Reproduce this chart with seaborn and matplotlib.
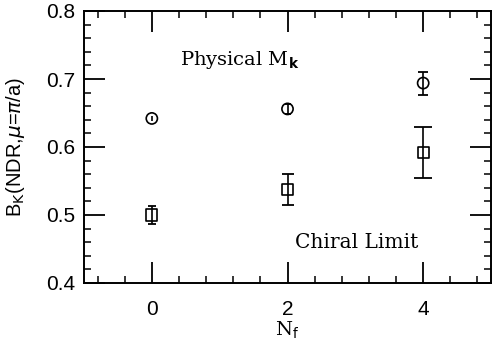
import matplotlib
matplotlib.use("Agg")
import matplotlib.pyplot as plt
from matplotlib.ticker import MultipleLocator
import seaborn as sns
import pandas as pd

# Data
nf = [0, 2, 4]
phys_vals = [0.642, 0.656, 0.694]
phys_errs = [0.004, 0.007, 0.017]
chiral_vals = [0.500, 0.538, 0.592]
chiral_errs = [0.013, 0.023, 0.038]
phys_caps = [0.0, 2.5, 3.6]
chiral_caps = [3.0, 4.3, 6.8]
xticks = [0, 2, 4]
yticks = [0.4, 0.5, 0.6, 0.7, 0.8]

sns.set_style("ticks")
plt.rcParams['font.family'] = ['Liberation Sans', 'DejaVu Sans']
plt.rcParams['text.color'] = 'black'
plt.rcParams['axes.labelcolor'] = 'black'
plt.rcParams['xtick.color'] = 'black'
plt.rcParams['ytick.color'] = 'black'

df = pd.DataFrame({
    "nf": nf * 2,
    "val": phys_vals + chiral_vals,
    "set": ["Physical"] * 3 + ["Chiral"] * 3,
})

fig = plt.figure(figsize=(4.92, 3.49), dpi=100)
ax = fig.add_axes([84 / 492, 1 - 283 / 349, (491 - 84) / 492, (283 - 11) / 349])

sns.scatterplot(data=df, x="nf", y="val", style="set",
                markers={"Physical": "o", "Chiral": "s"},
                s=65, facecolor='white', edgecolor='black', linewidth=1.2,
                legend=False, ax=ax, zorder=3)

for x, v, e, c in zip(nf, phys_vals, phys_errs, phys_caps):
    ax.errorbar(x, v, yerr=e, fmt='none', ecolor='black', elinewidth=1.2,
                capsize=c, capthick=1.3, zorder=4)
for x, v, e, c in zip(nf, chiral_vals, chiral_errs, chiral_caps):
    ax.errorbar(x, v, yerr=e, fmt='none', ecolor='black', elinewidth=1.2,
                capsize=c, capthick=1.3, zorder=4)

ax.set_xlim(-1, 5)
ax.set_ylim(0.4, 0.8)
ax.set_xticks(xticks)
ax.set_yticks(yticks)
ax.set_yticklabels([f"{t:.1f}" for t in yticks])
ax.xaxis.set_minor_locator(MultipleLocator(0.4))
ax.yaxis.set_minor_locator(MultipleLocator(0.02))
ax.tick_params(which='both', direction='in', top=True, right=True, color='black',
               labelcolor='black')
ax.tick_params(which='major', length=15, width=1.3, labelsize=15)
ax.tick_params(which='minor', length=5, width=1.1)
ax.tick_params(axis='x', which='major', pad=12)
ax.tick_params(axis='y', which='major', pad=6)
for s in ax.spines.values():
    s.set_linewidth(1.4)
    s.set_color('black')

ax.set_xlabel(r"N$_{\mathrm{f}}$", fontsize=14, family='DejaVu Serif', labelpad=1,
              color='black')
ax.set_ylabel(r"B$_{\mathrm{K}}$(NDR,$\mu$=$\pi$/a)", fontsize=14.5, color='black')
ax.yaxis.set_label_coords(-0.14, 0.5)

ax.text(1.30, 0.728, r"Physical M$_{\mathbf{k}}$", fontsize=14, family='DejaVu Serif',
        ha='center', va='center', color='black')
ax.text(3.02, 0.459, "Chiral Limit", fontsize=14.5, family='DejaVu Serif',
        ha='center', va='center', color='black')

fig.savefig("out.png", dpi=100)
